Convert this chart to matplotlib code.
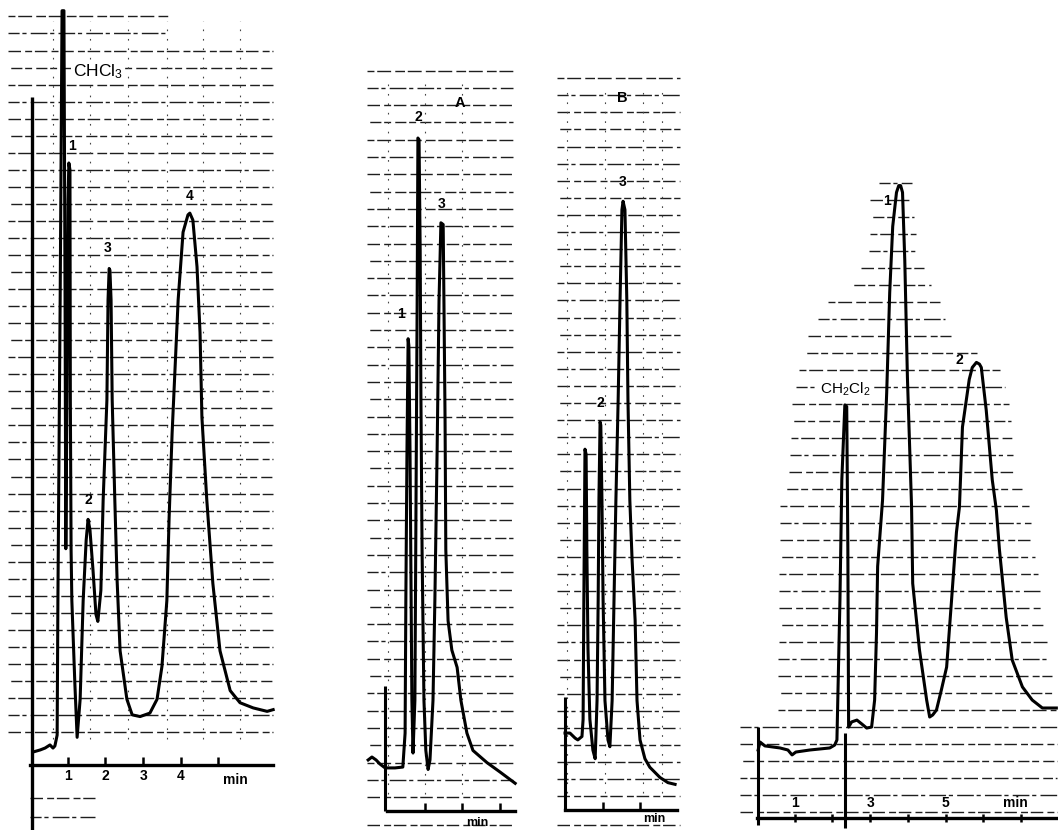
import numpy as np
import matplotlib.pyplot as plt

plt.rcParams['font.family'] = ['Liberation Sans', 'DejaVu Sans']
plt.rcParams['mathtext.default'] = 'regular'

# ---- chromatogram traces: time (min), signal (chart divisions) ----
# left trace, CHCl3 solvent
t_chcl3 = [0.08, 0.27, 0.40, 0.53, 0.61, 0.66, 0.72, 0.74, 0.80, 0.85, 0.90, 0.93, 0.95, 0.98,
           1.01, 1.03, 1.06, 1.07, 1.09, 1.11, 1.19, 1.25, 1.33, 1.41, 1.49, 1.54, 1.59, 1.67,
           1.75, 1.80, 1.88, 1.94, 2.04, 2.07, 2.10, 2.12, 2.15, 2.18, 2.25, 2.31, 2.39, 2.57,
           2.71, 2.92, 3.18, 3.37, 3.50, 3.63, 3.69, 3.77, 3.93, 4.06, 4.19, 4.24, 4.32, 4.43,
           4.51, 4.56, 4.69, 4.85, 5.04, 5.31, 5.57, 5.92, 6.29, 6.45]
s_chcl3 = [0.75, 0.87, 0.98, 1.16, 0.98, 1.10, 1.73, 9.5, 26.9, 43.6, 43.6, 26.9, 12.5, 21.1,
           32.7, 34.8, 34.4, 21.1, 12.4, 9.5, 4.7, 1.6, 3.8, 9.5, 13.0, 14.2, 13.6, 11.3,
           8.7, 8.3, 10.1, 15.3, 21.1, 26.9, 28.7, 28.6, 26.9, 21.1, 15.3, 10.7, 6.6, 3.8,
           2.9, 2.8, 3.0, 3.8, 5.7, 9.5, 14.3, 19.2, 26.9, 30.8, 31.8, 31.9, 31.5, 28.8,
           25.0, 20.1, 15.3, 10.5, 6.6, 4.3, 3.6, 3.3, 3.1, 3.2]

# trace A
t_a = [-0.50, -0.40, -0.29, -0.19, -0.05, 0.21, 0.42, 0.48, 0.50, 0.53, 0.56, 0.58, 0.61,
       0.64, 0.66, 0.69, 0.74, 0.77, 0.80, 0.82, 0.85, 0.88, 0.90, 0.93, 0.98, 1.03, 1.09,
       1.14, 1.22, 1.27, 1.33, 1.38, 1.43, 1.49, 1.51, 1.54, 1.56, 1.62, 1.72, 1.86, 1.96,
       2.12, 2.28, 2.65, 3.00, 3.40]
s_a = [2.95, 3.12, 2.95, 2.72, 2.49, 2.49, 2.54, 4.5, 12.2, 20.9, 27.3, 26.9, 20.9,
       12.2, 6.4, 3.35, 6.4, 18.0, 29.5, 38.9, 38.8, 32.4, 23.8, 15.1, 6.4, 3.5, 2.4,
       2.95, 6.4, 12.2, 20.9, 29.5, 34.0, 33.9, 29.5, 22.6, 15.1, 11.0, 9.3, 8.3, 6.4,
       4.5, 3.5, 2.8, 2.25, 1.6]

# trace B
t_b = [0.00, 0.13, 0.27, 0.34, 0.45, 0.48, 0.50, 0.53, 0.56, 0.58, 0.61, 0.66, 0.74, 0.80,
       0.85, 0.88, 0.90, 0.93, 0.95, 0.98, 1.01, 1.06, 1.14, 1.19, 1.25, 1.30, 1.35, 1.41,
       1.46, 1.51, 1.54, 1.59, 1.64, 1.67, 1.72, 1.78, 1.86, 1.91, 1.99, 2.12, 2.25, 2.52,
       2.73, 2.92]
s_b = [4.5, 4.5, 4.2, 4.1, 4.3, 5.3, 12.3, 21.1, 20.8, 15.2, 9.4, 5.3, 3.5, 3.0,
       6.4, 12.3, 18.1, 22.7, 22.5, 18.1, 12.3, 6.4, 4.1, 3.7, 6.4, 12.3, 18.1, 24.0,
       29.8, 35.1, 35.6, 35.1, 29.8, 24.0, 18.1, 14.6, 11.1, 6.4, 4.1, 3.0, 2.5, 1.9,
       1.6, 1.5]

# right trace, CH2Cl2 solvent
t_ch2cl2 = [0.03, 0.08, 0.21, 0.61, 0.82, 0.93, 1.03, 1.40, 1.93, 2.06, 2.12, 2.20, 2.25, 2.33,
            2.38, 2.41, 2.43, 2.51, 2.65, 2.78, 2.91, 3.04, 3.12, 3.17, 3.20, 3.33, 3.44, 3.52,
            3.60, 3.70, 3.76, 3.81, 3.86, 3.92, 3.99, 4.10, 4.13, 4.31, 4.50, 4.58, 4.66, 4.76,
            4.89, 5.03, 5.16, 5.29, 5.37, 5.45, 5.63, 5.71, 5.82, 5.90, 5.95, 6.08, 6.24, 6.35,
            6.43, 6.61, 6.77, 7.04, 7.30, 7.57, 7.94]
s_ch2cl2 = [4.0, 4.47, 4.24, 4.12, 4.0, 3.71, 3.88, 4.0, 4.12, 4.29, 4.59, 12.8, 19.9, 24.3,
            24.2, 15.8, 5.35, 5.65, 5.76, 5.53, 5.29, 5.35, 6.94, 10.9, 14.8, 18.7, 25.0, 30.9,
            34.8, 36.8, 37.2, 37.2, 36.8, 32.8, 25.9, 18.3, 13.8, 9.88, 6.94, 5.94, 6.06, 6.35,
            7.53, 8.88, 12.8, 16.8, 18.3, 23.0, 25.8, 26.5, 26.8, 26.7, 26.5, 24.0, 19.9, 18.1,
            15.8, 11.8, 9.29, 7.71, 6.94, 6.47, 6.47]

# peak labels
lab_chcl3 = ['1', '2', '3', '4']
lab_chcl3_t = [1.11, 1.56, 2.07, 4.24]
lab_chcl3_s = [35.4, 14.9, 29.5, 32.5]
lab_a = ['1', '2', '3']
lab_a_t = [0.37, 0.82, 1.46]
lab_a_s = [28.3, 39.7, 34.7]
lab_b = ['2', '3']
lab_b_t = [0.93, 1.54]
lab_b_s = [23.4, 36.3]
lab_ch2cl2 = ['1', '2']
lab_ch2cl2_t = [3.44, 5.37]
lab_ch2cl2_s = [35.9, 26.5]

W, H = 1058, 830
PX_MIN = 37.7  # chart speed, px per minute

fig = plt.figure(figsize=(W / 100, H / 100), dpi=100)
fig.patch.set_facecolor('white')

DASHES = [(0, (9, 3, 5, 2)), (4, (12, 2, 3, 3)), (2, (7, 2, 10, 3)), (6, (5, 3, 8, 2))]
WHITE = dict(facecolor='white', edgecolor='none', pad=1.0)


def make_panel(x0, x1, ox, oy, pxu, t_end, ticks, tick_dir):
    ax = fig.add_axes([x0 / W, 0, (x1 - x0) / W, 1])
    ax.set_xlim((x0 - ox) / PX_MIN, (x1 - ox) / PX_MIN)
    ax.set_ylim((oy - H) / pxu, oy / pxu)
    ax.patch.set_alpha(0)
    for sp in ['top', 'right', 'left']:
        ax.spines[sp].set_visible(False)
    ax.spines['bottom'].set_position(('data', 0))
    ax.spines['bottom'].set_bounds(0, t_end)
    ax.spines['bottom'].set_linewidth(2.4)
    ax.spines['bottom'].set_zorder(4)
    ax.set_yticks([])
    ax.set_xticks(ticks)
    ax.tick_params(axis='x', direction=tick_dir, length=6, width=1.8, labelsize=10, pad=3)
    return ax


def paper(ax, rows, left, right):
    for i, s in enumerate(rows):
        ax.plot([left[i], right[i]], [s, s], color='#1e1e1e', lw=1.0,
                ls=DASHES[i % len(DASHES)], zorder=1)


def vdots(ax, ts, s0, s1):
    for t in ts:
        ax.plot([t, t], [s0, s1], color='#444444', lw=0.8, ls=(0, (1.5, 7)), zorder=1)


def trace(ax, t, s):
    ax.plot(t, s, color='black', lw=2.2, solid_joinstyle='round', zorder=3)


def peak_labels(ax, labels, ts, ss, size=10):
    for lab, t, s in zip(labels, ts, ss):
        ax.text(t, s, lab, ha='center', va='bottom', fontsize=size, fontweight='bold', zorder=5)


# ---- left chromatogram (CHCl3) ----
ax1 = make_panel(5, 285, 30, 765, 17.3, 6.45, [1, 2, 3, 4, 5], 'in')
ax1.set_xticklabels(['1', '2', '3', '4', ''], fontweight='bold')
rows = 1.9 + 0.985 * np.arange(0, 43)
right = np.where(rows > 41.8, 3.7, 6.45)
paper(ax1, rows, np.full(len(rows), -0.58), right)
paper(ax1, [-1.9, -3.0], [0.0, 0.0], [1.72, 1.72])
vdots(ax1, [0.61, 1.59, 2.6, 3.63, 4.59, 5.57], 1.5, 43)
ax1.vlines(0.05, -3.8, 38.6, color='black', lw=2.4, zorder=3)
trace(ax1, t_chcl3, s_chcl3)
peak_labels(ax1, lab_chcl3, lab_chcl3_t, lab_chcl3_s)
ax1.text(1.13, 40.1, 'CHCl$_3$', ha='left', va='center', fontsize=12.5, zorder=5, bbox=WHITE)
ax1.text(5.45, -0.45, 'min', ha='center', va='top', fontsize=10, fontweight='bold')

# ---- chromatogram A ----
axA = make_panel(362, 520, 387, 811, 17.3, 3.4, [1, 2, 3], 'in')
axA.set_xticklabels([])
rows = np.arange(0, 43) + 0.8
paper(axA, rows, np.full(len(rows), -0.53), np.full(len(rows), 3.34))
paper(axA, [-0.8], [-0.53], [3.34])
vdots(axA, [0.03, 1.0, 2.0], 1, 42)
axA.vlines(-0.05, 0, 7.2, color='black', lw=2.2, zorder=3)
trace(axA, t_a, s_a)
peak_labels(axA, lab_a, lab_a_t, lab_a_s)
axA.text(1.94, 40.5, 'A', ha='center', va='bottom', fontsize=10.5, fontweight='bold')
axA.text(2.39, -0.35, 'min', ha='center', va='top', fontsize=9, fontweight='bold')

# ---- chromatogram B ----
axB = make_panel(552, 685, 565, 810, 17.1, 2.97, [1, 2], 'in')
axB.set_xticklabels([])
rows = np.arange(0, 43) + 0.8
paper(axB, rows, np.full(len(rows), -0.21), np.full(len(rows), 3.05))
paper(axB, [-0.9], [-0.21], [3.05])
vdots(axB, [0.05, 1.06, 2.07, 2.57], 1, 42)
axB.vlines(0.0, 0, 6.6, color='black', lw=2.2, zorder=3)
trace(axB, t_b, s_b)
peak_labels(axB, lab_b, lab_b_t, lab_b_s)
axB.text(1.51, 41.2, 'B', ha='center', va='bottom', fontsize=10.5, fontweight='bold')
axB.text(2.36, -0.2, 'min', ha='center', va='top', fontsize=9, fontweight='bold')

# ---- right chromatogram (CH2Cl2) ----
ax4 = make_panel(735, 1058, 757, 818, 17.0, 7.96, [1, 2, 3, 4, 5, 6, 7], 'inout')
ax4.set_xticklabels([])
rows = np.arange(0, 38) + 0.35
s_br = [0, 5.4, 6.0, 18.4, 20.5, 24.4, 26.5, 28.4, 30.5, 31.5, 33.4, 36.4, 37.4]
l_br = [-0.45, -0.45, 0.55, 0.61, 0.87, 0.93, 1.14, 1.35, 1.93, 2.59, 2.99, 2.99, 3.25]
r_br = [7.96, 7.96, 7.96, 7.2, 6.83, 6.69, 6.43, 5.10, 4.84, 4.58, 4.26, 4.13, 4.10]
paper(ax4, rows, np.interp(rows, s_br, l_br), np.interp(rows, s_br, r_br))
ax4.vlines(0.03, -0.4, 5.35, color='black', lw=2.2, zorder=3)
ax4.vlines(2.33, -0.6, 5.0, color='black', lw=2.2, zorder=3)
trace(ax4, t_ch2cl2, s_ch2cl2)
peak_labels(ax4, lab_ch2cl2, lab_ch2cl2_t, lab_ch2cl2_s)
ax4.text(2.33, 24.7, 'CH$_2$Cl$_2$', ha='center', va='bottom', fontsize=11, zorder=5, bbox=WHITE)
for lab, t in zip(['1', '3', '5', 'min'], [1, 3, 5, 6.85]):
    ax4.text(t, 0.45, lab, ha='center', va='bottom', fontsize=10, fontweight='bold')

fig.savefig('out.png', dpi=100, facecolor='white')
